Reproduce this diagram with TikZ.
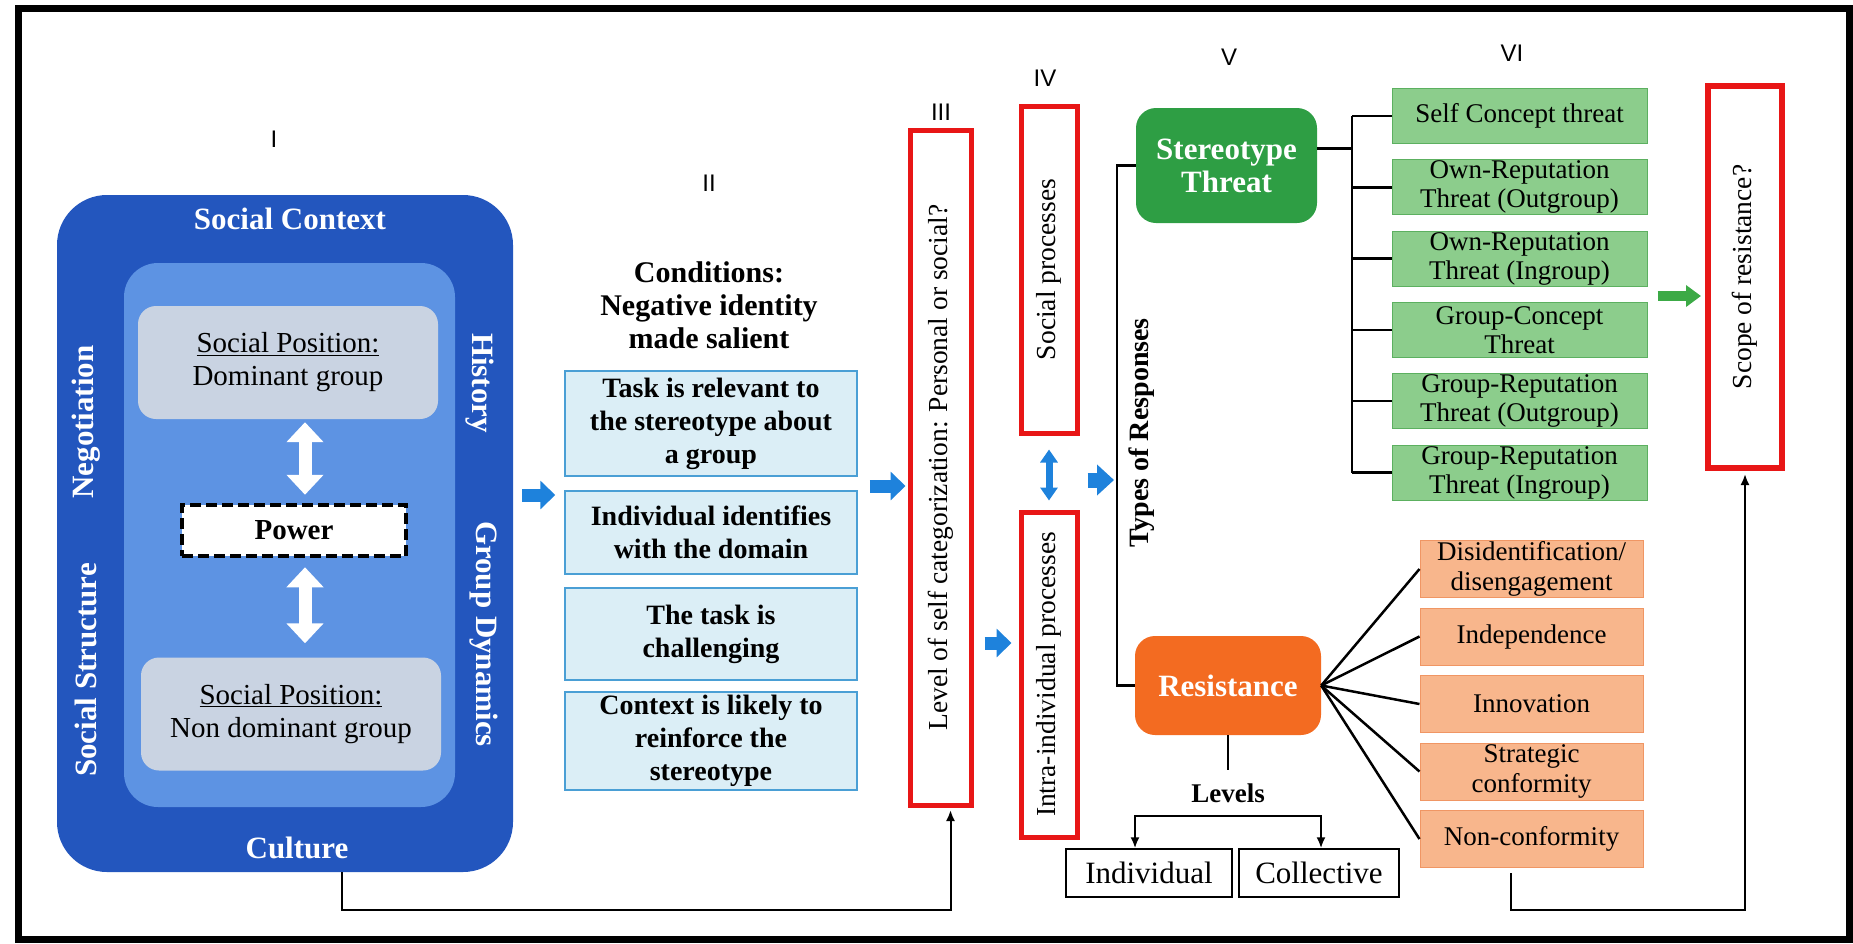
\documentclass[tikz,border=0pt]{standalone}
\usepackage{fontspec}
\setmainfont{Liberation Serif}
\newfontfamily\numfont{Liberation Sans}
\usepackage{graphicx}
\usetikzlibrary{arrows.meta}
\usetikzlibrary{positioning, calc}
\definecolor{ctxblue}{RGB}{35,86,190}
\definecolor{innerblue}{RGB}{93,147,227}
\definecolor{posgray}{RGB}{201,211,226}
\definecolor{condfill}{RGB}{219,238,246}
\definecolor{condline}{RGB}{74,159,213}
\definecolor{myred}{RGB}{232,22,22}
\definecolor{arrowblue}{RGB}{30,130,220}
\definecolor{arrowgreen}{RGB}{60,170,70}
\definecolor{stgreen}{RGB}{46,158,68}
\definecolor{boxgreen}{RGB}{140,205,140}
\definecolor{linegreen}{RGB}{92,176,96}
\definecolor{resorange}{RGB}{243,107,33}
\definecolor{boxorange}{RGB}{248,182,140}
\definecolor{lineorange}{RGB}{240,150,100}

\tikzset{
  >={Latex[length=11pt,width=9pt]},
  numeral/.style={font=\numfont\fontsize{24}{28}\selectfont},
  headtext/.style={text=white, font=\bfseries\fontsize{31}{33}\selectfont},
  posbox/.style={fill=posgray, rounded corners=18pt, minimum width=300pt, minimum height=113pt, align=center, font=\fontsize{29}{33}\selectfont},
  condbox/.style={draw=condline, line width=1.5pt, fill=condfill, minimum width=292pt, align=center, inner sep=2pt, font=\bfseries\fontsize{28}{33}\selectfont},
  redbox/.style={draw=myred, line width=5pt, fill=white, inner sep=0pt, font=\fontsize{27.5}{30}\selectfont},
  threatbox/.style={draw=linegreen, line width=1pt, fill=boxgreen, minimum width=255pt, minimum height=55pt, align=center, inner sep=0pt, font=\fontsize{27}{29}\selectfont},
  respbox/.style={draw=lineorange, line width=1pt, fill=boxorange, minimum width=223pt, minimum height=57pt, align=center, inner sep=0pt, font=\fontsize{27}{30}\selectfont},
  levelbox/.style={draw, line width=1.5pt, minimum height=48pt, font=\fontsize{31}{34}\selectfont},
  blk/.style={draw=arrowblue, line width=13pt, -{Triangle[width=28pt,length=15pt]}},
  whitearrow/.style={draw=white, line width=13pt, {Triangle[width=36pt,length=20pt]}-{Triangle[width=36pt,length=20pt]}},
  branch/.style={line width=2.5pt},
  conn/.style={line width=2pt, ->},
}

\begin{document}
\begin{tikzpicture}[x=1pt,y=-1pt]
\useasboundingbox (0,0) rectangle (1853,943);
\draw[line width=7pt] (18,8) rectangle (1849,939);

% column numbers
\node[numeral] (nI) at (274,139) {I};
\node[numeral] (nII) at (709,183) {II};
\node[numeral] (nIII) at (941,112) {III};
\node[numeral] (nIV) at (1045,78) {IV};
\node[numeral] (nV) at (1229,57) {V};
\node[numeral] (nVI) at (1512,53) {VI};

% I
\node[fill=ctxblue, rounded corners=50pt, minimum width=456pt, minimum height=677pt] (ctx) at (285,533.5) {};
\node[fill=innerblue, rounded corners=34pt, minimum width=331pt, minimum height=544pt] (inner) at (289.5,535) {};
\node[headtext] (sctx) at (290,219) {Social Context};
\node[headtext] (cult) at (297,848) {Culture};
\node[headtext, rotate=90] (nego) at (86,422) {Negotiation};
\node[headtext, rotate=90] (sstr) at (86,670) {Social Structure};
\node[headtext, rotate=-90] (hist) at (480,383) {History};
\node[headtext, rotate=-90] (gdyn) at (484,634) {Group Dynamics};
\node[posbox] (dom) at (288,362.5) {\underline{Social Position:}\\Dominant group};
\node[posbox] (ndom) at (291,714) {\underline{Social Position:}\\Non dominant group};
\node[draw, dash pattern=on 11pt off 5pt, line width=4.5pt, fill=white, minimum width=224pt, minimum height=51pt, font=\bfseries\fontsize{29}{32}\selectfont] (power) at (294,530.5) {Power};
\coordinate (pwN) at ([xshift=11pt]power.north);
\coordinate (pwS) at ([xshift=11pt]power.south);
\draw[whitearrow, shorten <=8pt, shorten >=3pt] (pwN) -- (pwN |- dom.south);
\draw[whitearrow, shorten <=9pt, shorten >=14pt] (pwS) -- (pwS |- ndom.north);

% II
\node[font=\bfseries\fontsize{30}{33}\selectfont, align=center] (cond) at (709,305) {Conditions:\\Negative identity\\made salient};
\node[condbox, minimum height=105pt] (c1) at (711,423.5) {Task is relevant to\\the stereotype about\\a group};
\node[condbox, minimum height=83pt] (c2) at (711,532.5) {Individual identifies\\with the domain};
\node[condbox, minimum height=92pt] (c3) at (711,634) {The task is\\challenging};
\node[condbox, minimum height=98pt] (c4) at (711,741) {Context is likely to\\reinforce the\\stereotype};

% III and IV
\node[redbox, minimum width=61pt, minimum height=675pt] (lvl) at (940.5,467.5) {\rotatebox{90}{Level of self categorization: Personal or social?}};
\node[redbox, minimum width=56pt, minimum height=327pt] (soc) at (1049,269.5) {\rotatebox{90}{Social processes}};
\node[redbox, minimum width=56pt, minimum height=325pt] (intra) at (1049,674.5) {\rotatebox{90}{Intra-individual processes}};

\coordinate (rowI) at (0,495);
\coordinate (rowII) at (0,486);
\coordinate (rowIII) at (0,643);
\coordinate (rowIV) at (0,480);
\coordinate (rowVI) at (0,296);
\draw[blk, shorten <=9pt, shorten >=9pt] (ctx.east |- rowI) -- (c2.west |- rowI);
\draw[blk, shorten <=12pt, shorten >=2pt] (c1.east |- rowII) -- (lvl.west |- rowII);
\draw[blk, shorten <=11pt, shorten >=7pt] (lvl.east |- rowIII) -- (intra.west |- rowIII);
\draw[draw=arrowblue, line width=7pt, {Triangle[width=17pt,length=13pt]}-{Triangle[width=17pt,length=13pt]}, shorten <=14pt, shorten >=9pt] (soc.south) -- (intra.north);

% V
\node[fill=stgreen, rounded corners=20pt, minimum width=181pt, minimum height=115pt, align=center, headtext] (st) at (1226.5,165.5) {Stereotype\\Threat};
\node[fill=resorange, rounded corners=20pt, minimum width=186pt, minimum height=99pt, headtext] (res) at (1228,685.5) {Resistance};
\node[font=\bfseries\fontsize{28}{32}\selectfont, rotate=90] (types) at (1142,433) {Types of Responses};
\coordinate (vbar) at (1117,0);
\draw[branch] (st.west) -- (vbar |- st.west) -- (vbar |- res.west) -- (res.west);
\draw[blk, line width=15pt, -{Triangle[width=30pt,length=17pt]}, shorten <=8pt, shorten >=3pt] (intra.east |- rowIV) -- (vbar |- rowIV);

% VI
\foreach \i/\txt in {1/{Self Concept threat}, 2/{Own-Reputation\\Threat (Outgroup)}, 3/{Own-Reputation\\Threat (Ingroup)}, 4/{Group-Concept\\Threat}, 5/{Group-Reputation\\Threat (Outgroup)}, 6/{Group-Reputation\\Threat (Ingroup)}}
  \node[threatbox] (g\i) at (1519.5,{116+71.3*(\i-1)}) {\txt};
\coordinate (gbar) at (1352,0);
\draw[branch] ([yshift=17pt]st.east) -- ++(35,0);
\draw[branch] (gbar |- g1.west) -- (gbar |- g6.west);
\foreach \i in {1,...,6}
  \draw[branch] (gbar |- g\i.west) -- (g\i.west);

\node[redbox, line width=6pt, minimum width=74pt, minimum height=382pt] (scope) at (1745,277) {\rotatebox{90}{Scope of resistance?}};
\draw[draw=arrowgreen, line width=10pt, -{Triangle[width=21pt,length=15pt]}, shorten <=10pt, shorten >=4pt] (g4.east |- rowVI) -- (scope.west |- rowVI);

% responses
\foreach \i/\txt in {1/{Disidentification/\\disengagement}, 2/Independence, 3/Innovation, 4/{Strategic\\conformity}, 5/Non-conformity}
  \node[respbox] (o\i) at (1531.5,{569+67.5*(\i-1)}) {\txt};
\foreach \i in {1,...,5}
  \draw[branch] (res.east) -- (o\i.west);

% levels
\draw[branch] (res.south) -- ++(0,35);
\node[font=\bfseries\fontsize{27}{30}\selectfont] (lev) at (1228,793) {Levels};
\node[levelbox, minimum width=166pt] (ind) at (1149,873) {Individual};
\node[levelbox, minimum width=160pt] (coll) at (1319,873) {Collective};
\coordinate (levL) at (1135,816);
\coordinate (levR) at (1321,816);
\draw[line width=2pt, <->] (levL |- ind.north) -- (levL) -- (levR) -- (levR |- coll.north);

% feedback lines at the bottom
\coordinate (cbot) at (0,910);
\coordinate (lvlin) at ([xshift=10pt]lvl.south);
\draw[conn, shorten >=2.5pt] ([xshift=57pt]ctx.south) |- (lvlin |- cbot) -- (lvlin);
\draw[conn, shorten >=3pt] ([xshift=-21pt,yshift=-5pt]o5.south) |- (scope.south |- cbot) -- (scope.south);
\end{tikzpicture}
\end{document}
